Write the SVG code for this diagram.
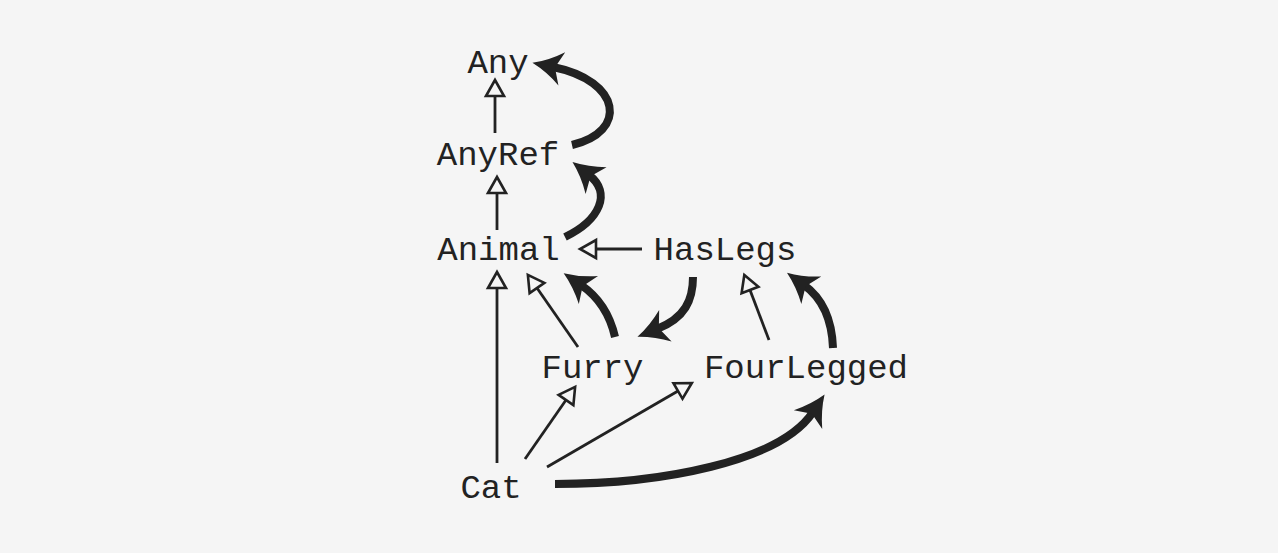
<svg xmlns="http://www.w3.org/2000/svg" width="1278" height="553" viewBox="0 0 1278 553">
<style>
.lbl{font-family:"Liberation Mono","DejaVu Sans Mono",monospace;font-size:34px;fill:#222;text-anchor:middle}
.thin{fill:none;stroke:#222;stroke-width:2.8}
.thick{fill:none;stroke:#222;stroke-width:8}
</style>
<defs>
<marker id="open" markerUnits="userSpaceOnUse" markerWidth="24" markerHeight="24" viewBox="-2 -12 22 24" refX="0" refY="0" orient="auto" overflow="visible">
<path d="M0,-9 L16,0 L0,9 Z" fill="#f5f5f5" stroke="#222" stroke-width="2.6" stroke-linejoin="miter"/>
</marker>
<marker id="solid" markerUnits="userSpaceOnUse" markerWidth="40" markerHeight="40" viewBox="-2 -20 36 40" refX="9" refY="0" orient="auto" overflow="visible">
<path d="M0,-17 Q14,-6 30,0 Q14,6 0,17 L7,0 Z" fill="#222"/>
</marker>
</defs>
<rect width="1278" height="553" fill="#f5f5f5"/>
<g id="connectors">
<line class="thin" x1="495" y1="133" x2="495" y2="96" marker-end="url(#open)"/>
<line class="thin" x1="497" y1="230" x2="497" y2="193" marker-end="url(#open)"/>
<line class="thin" x1="642" y1="249" x2="596" y2="249" marker-end="url(#open)"/>
<line class="thin" x1="497" y1="463" x2="497" y2="288" marker-end="url(#open)"/>
<line class="thin" x1="578" y1="347" x2="537" y2="288" marker-end="url(#open)"/>
<line class="thin" x1="769" y1="340" x2="750" y2="290" marker-end="url(#open)"/>
<line class="thin" x1="525" y1="459" x2="566" y2="400" marker-end="url(#open)"/>
<line class="thin" x1="547" y1="467" x2="678" y2="391" marker-end="url(#open)"/>
<path class="thick" d="M572,145 C628,132 622,81 553,67" marker-end="url(#solid)"/>
<path class="thick" d="M565,237 C600,220 612,193 589,175" marker-end="url(#solid)"/>
<path class="thick" d="M615,337 C610,315 600,298 581,285" marker-end="url(#solid)"/>
<path class="thick" d="M693,277 C693,300 685,318 657,329" marker-end="url(#solid)"/>
<path class="thick" d="M833,348 C832,320 822,298 804,285" marker-end="url(#solid)"/>
<path class="thick" d="M555,484 C660,484 780,462 813,412" marker-end="url(#solid)"/>
</g>
<g id="Any"><text class="lbl" x="498" y="73">Any</text></g>
<g id="AnyRef"><text class="lbl" x="498" y="165">AnyRef</text></g>
<g id="Animal"><text class="lbl" x="498.5" y="260">Animal</text></g>
<g id="HasLegs"><text class="lbl" x="725" y="260">HasLegs</text></g>
<g id="Furry"><text class="lbl" x="592.5" y="378">Furry</text></g>
<g id="FourLegged"><text class="lbl" x="806" y="378">FourLegged</text></g>
<g id="Cat"><text class="lbl" x="491" y="498">Cat</text></g>
</svg>
